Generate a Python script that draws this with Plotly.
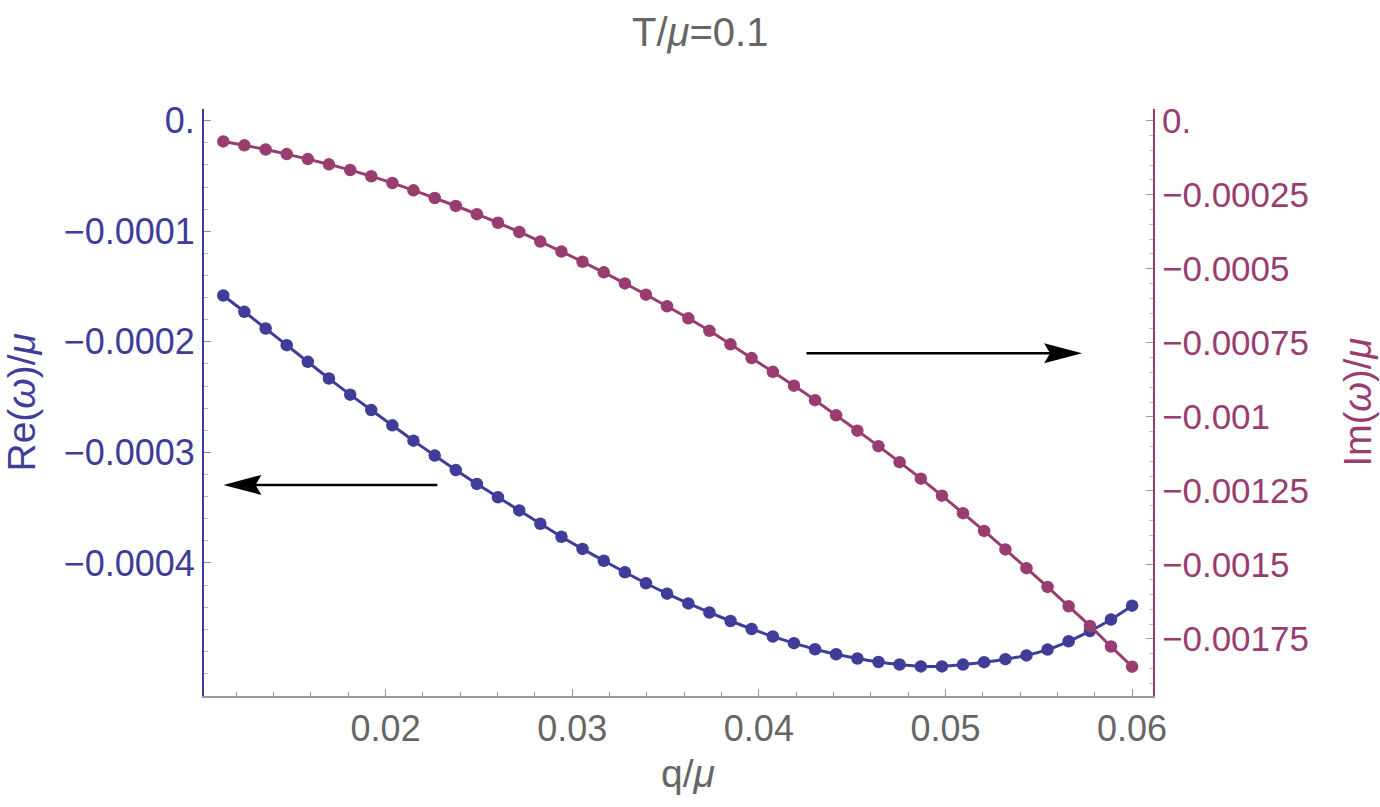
import plotly.graph_objects as go

# ---------------- data ----------------
q = [0.0113, 0.01243, 0.01357, 0.0147, 0.01583, 0.01696, 0.0181, 0.01923, 0.02036, 0.02149,
     0.02263, 0.02376, 0.02489, 0.02602, 0.02716, 0.02829, 0.02942, 0.03055, 0.03169, 0.03282,
     0.03395, 0.03508, 0.03622, 0.03735, 0.03848, 0.03961, 0.04075, 0.04188, 0.04301, 0.04414,
     0.04528, 0.04641, 0.04754, 0.04868, 0.04981, 0.05094, 0.05207, 0.05321, 0.05434, 0.05547,
     0.0566, 0.05774, 0.05887, 0.06]

re_omega = [-1.581e-4, -1.7285e-4, -1.8796e-4, -2.0299e-4, -2.181e-4, -2.3321e-4, -2.4778e-4,
            -2.6172e-4, -2.7557e-4, -2.8941e-4, -3.029e-4, -3.1602e-4, -3.2851e-4, -3.4055e-4,
            -3.5249e-4, -3.6453e-4, -3.7629e-4, -3.8733e-4, -3.9801e-4, -4.0842e-4, -4.1837e-4,
            -4.2778e-4, -4.3665e-4, -4.448e-4, -4.5249e-4, -4.5973e-4, -4.6652e-4, -4.7258e-4,
            -4.781e-4, -4.8263e-4, -4.8643e-4, -4.896e-4, -4.9186e-4, -4.9358e-4, -4.9358e-4,
            -4.9195e-4, -4.8978e-4, -4.8706e-4, -4.8362e-4, -4.7837e-4, -4.7086e-4, -4.6163e-4,
            -4.5113e-4, -4.3864e-4]

im_omega = [-0.6993e-4, -0.8311e-4, -0.973e-4, -1.1284e-4, -1.2973e-4, -1.473e-4, -1.6655e-4,
            -1.875e-4, -2.1047e-4, -2.3514e-4, -2.6115e-4, -2.8784e-4, -3.1554e-4, -3.4459e-4,
            -3.7568e-4, -4.0811e-4, -4.4189e-4, -4.7635e-4, -5.1216e-4, -5.4932e-4, -5.875e-4,
            -6.2669e-4, -6.6723e-4, -7.0946e-4, -7.5507e-4, -8.0169e-4, -8.4797e-4, -8.9459e-4,
            -9.4358e-4, -9.9493e-4, -10.4662e-4, -10.9899e-4, -11.5304e-4, -12.0878e-4,
            -12.6622e-4, -13.2534e-4, -13.8514e-4, -14.4764e-4, -15.1081e-4, -15.7432e-4,
            -16.3953e-4, -17.0608e-4, -17.7534e-4, -18.4358e-4]

x_tickvals = [0.02, 0.03, 0.04, 0.05, 0.06]
x_ticktext = ["0.02", "0.03", "0.04", "0.05", "0.06"]
re_tickvals = [0, -0.0001, -0.0002, -0.0003, -0.0004]
re_ticktext = ["0.", "\u22120.0001", "\u22120.0002", "\u22120.0003", "\u22120.0004"]
im_tickvals = [0, -0.00025, -0.0005, -0.00075, -0.001, -0.00125, -0.0015, -0.00175]
im_ticktext = ["0.", "\u22120.00025", "\u22120.0005", "\u22120.00075", "\u22120.001",
               "\u22120.00125", "\u22120.0015", "\u22120.00175"]

# ---------------- style ----------------
BLUE = "#3f3d99"
PURPLE = "#993d71"
GRAY = "#666666"
FONT = "Liberation Sans, Arial, sans-serif"

W, H = 1380, 807
ML, MR, MT, MB = 204, 227, 109, 111
PW = W - ML - MR
PH = H - MT - MB

x_range = [0.010267, 0.06112]
re_range = [-0.00052036, 0.0000106]
im_range = [-0.0019426, 0.0000395]

fig = go.Figure()
fig.add_trace(go.Scatter(
    x=q, y=re_omega, mode="lines+markers", yaxis="y",
    line=dict(color=BLUE, width=3, shape="spline", smoothing=0.6),
    marker=dict(color=BLUE, size=12.5), showlegend=False))
fig.add_trace(go.Scatter(
    x=q, y=im_omega, mode="lines+markers", yaxis="y2",
    line=dict(color=PURPLE, width=3, shape="spline", smoothing=0.6),
    marker=dict(color=PURPLE, size=12.5), showlegend=False))

# arrows (tail, tip) in data coordinates
arrow_left = dict(x_tail=0.02277, x_tip=0.01131, y=-0.0003294, yref="y")
arrow_right = dict(x_tail=0.04255, x_tip=0.05732, y=-0.000785, yref="y2")

px_per_x = PW / (x_range[1] - x_range[0])
shapes = []
for a in (arrow_left, arrow_right):
    direction = 1 if a["x_tip"] > a["x_tail"] else -1
    line_end = a["x_tip"] - direction * 22 / px_per_x
    shapes.append(dict(type="line", xref="x", yref=a["yref"],
                       x0=a["x_tail"], x1=line_end, y0=a["y"], y1=a["y"],
                       line=dict(color="black", width=2.5)))
    d = -direction
    path = f"M0,0 L{38*d},10 L{32*d},0 L{38*d},-10 Z"
    shapes.append(dict(type="path", xref="x", yref=a["yref"],
                       xsizemode="pixel", ysizemode="pixel",
                       xanchor=a["x_tip"], yanchor=a["y"], path=path,
                       fillcolor="black", line=dict(width=0)))

annotations = [
    dict(text="T/<i>μ</i>=0.1", xref="paper", yref="paper",
         x=(700 - ML) / PW, y=1 + (MT - 32) / PH, xanchor="center", yanchor="middle",
         showarrow=False, font=dict(size=40, color=GRAY, family=FONT)),
    dict(text="Re(<i>ω</i>)/<i>μ</i>", xref="paper", yref="paper",
         x=(21 - ML) / PW, y=0.5, xanchor="center", yanchor="middle", textangle=-90,
         showarrow=False, font=dict(size=39, color=BLUE, family=FONT)),
    dict(text="Im(<i>ω</i>)/<i>μ</i>", xref="paper", yref="paper",
         x=(1357 - ML) / PW, y=0.5, xanchor="center", yanchor="middle", textangle=-90,
         showarrow=False, font=dict(size=38, color=PURPLE, family=FONT)),
    dict(text="q/<i>μ</i>", xref="paper", yref="paper",
         x=(688 - ML) / PW, y=-(773 - (H - MB)) / PH, xanchor="center", yanchor="middle",
         showarrow=False, font=dict(size=39, color=GRAY, family=FONT)),
]

fig.update_layout(
    width=W, height=H, autosize=False,
    margin=dict(l=ML, r=MR, t=MT, b=MB, pad=0),
    paper_bgcolor="white", plot_bgcolor="white",
    font=dict(family=FONT),
    shapes=shapes, annotations=annotations,
    xaxis=dict(range=x_range, tickmode="array", tickvals=x_tickvals, ticktext=x_ticktext,
               ticks="inside", ticklen=7, tickwidth=1, tickcolor="#999999",
               minor=dict(tickmode="linear", tick0=0, dtick=0.002, ticks="inside",
                          ticklen=4, tickwidth=1, tickcolor="#999999"),
               showline=True, linecolor="#999999", linewidth=1.5,
               showgrid=False, zeroline=False,
               tickfont=dict(size=36, color=GRAY, family=FONT)),
    yaxis=dict(range=re_range, tickmode="array", tickvals=re_tickvals, ticktext=re_ticktext,
               ticks="inside", ticklen=7, tickwidth=1, tickcolor="#8c8bc2",
               minor=dict(tickmode="linear", tick0=0, dtick=0.00002, ticks="inside",
                          ticklen=4, tickwidth=1, tickcolor="#b5b4d8"),
               showline=True, linecolor=BLUE, linewidth=2,
               showgrid=False, zeroline=False,
               tickfont=dict(size=36, color=BLUE, family=FONT)),
    yaxis2=dict(range=im_range, overlaying="y", side="right", anchor="x",
                tickmode="array", tickvals=im_tickvals, ticktext=im_ticktext,
                ticks="inside", ticklen=7, tickwidth=1, tickcolor="#c28aaa",
                minor=dict(tickmode="linear", tick0=0, dtick=0.00005, ticks="inside",
                           ticklen=4, tickwidth=1, tickcolor="#d8b4c8"),
                showline=True, linecolor=PURPLE, linewidth=2,
                showgrid=False, zeroline=False,
                tickfont=dict(size=35, color=PURPLE, family=FONT)),
)

fig.write_html("out.html")
